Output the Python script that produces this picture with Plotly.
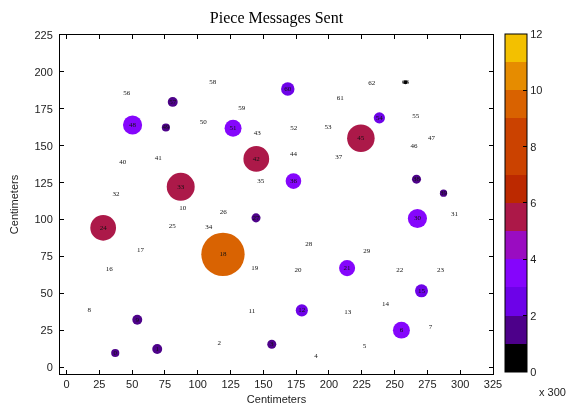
import numpy as np
import plotly.graph_objects as go

# Piece positions on the board (centimetres) and messages sent (in units of 300)
piece_id = list(range(64))
pos_x = [37.1, 69.1, 116.4, 156.4, 190.1, 227.0, 255.2, 277.4, 17.2, 53.9,
         88.5, 141.3, 179.3, 214.3, 243.0, 270.5, 32.5, 56.4, 119.2, 143.4,
         176.4, 213.8, 254.0, 285.0, 27.9, 80.6, 119.5, 144.4, 184.6, 228.8,
         267.4, 295.7, 37.6, 87.0, 108.3, 148.0, 172.9, 207.5, 266.7, 287.3,
         42.9, 69.9, 144.6, 145.4, 172.9, 224.3, 264.7, 278.1, 50.3, 75.7,
         104.2, 126.9, 173.2, 199.3, 238.4, 266.2, 45.8, 80.9, 111.4, 133.5,
         168.6, 208.5, 232.6, 258.3]
pos_y = [9.7, 12.4, 16.2, 15.6, 7.8, 14.6, 25.2, 27.1, 38.8, 32.2,
         108.0, 38.3, 38.6, 37.0, 43.0, 51.8, 66.7, 79.6, 76.5, 67.4,
         66.0, 67.2, 66.0, 66.0, 94.5, 95.8, 104.9, 101.2, 83.6, 78.9,
         100.8, 103.9, 117.5, 122.2, 95.1, 126.3, 126.1, 142.5, 127.4, 117.9,
         139.1, 141.8, 141.1, 158.7, 144.5, 155.1, 149.9, 155.3, 164.1, 162.4,
         166.2, 161.9, 162.1, 162.8, 168.9, 170.2, 185.4, 179.7, 193.2, 175.6,
         188.5, 182.4, 192.6, 193.0]
messages = [1.4, 1.8, 0, 1.6, 0, 0, 3.4, 0, 0, 1.8,
            0, 0, 2.3, 0, 0, 2.5, 0, 0, 9.4, 0,
            0, 3.2, 0, 0, 5.4, 0, 0, 1.6, 0, 0,
            3.9, 0, 0, 5.9, 0, 0, 3.1, 0, 1.6, 1.2,
            0, 0, 5.4, 0, 0, 5.8, 0, 0, 3.9, 1.4,
            0, 3.4, 0, 0, 2.1, 0, 0, 1.8, 0, 0,
            2.6, 0, 0, 0.5]

x_ticks = list(range(0, 326, 25))
y_ticks = list(range(0, 226, 25))
cb_ticks = list(range(0, 13, 2))

# 12-step palette (black - purple - red - orange - yellow)
palette = [(0, 0, 0), (77, 0, 138), (109, 2, 232), (133, 5, 252), (154, 12, 193),
           (172, 24, 72), (188, 41, 0), (203, 66, 0), (203, 66, 0), (217, 98, 0),
           (230, 140, 0), (243, 192, 0)]
n = len(palette)
colorscale = []
for i, (r, g, b) in enumerate(palette):
    c = f"rgb({r},{g},{b})"
    colorscale.append([i / n, c])
    colorscale.append([(i + 1) / n, c])

msg = np.array(messages)
sizes = np.where(msg > 0, 2 + 4.4 * msg, 0)

fig = go.Figure()
fig.add_trace(go.Scatter(
    x=pos_x, y=pos_y, mode="markers+text",
    text=[str(i) for i in piece_id],
    textposition="middle center",
    textfont=dict(family="Liberation Serif", size=7, color="#111111"),
    opacity=0.995,
    marker=dict(
        size=sizes, sizemode="diameter", color=messages,
        colorscale=colorscale, cmin=0, cmax=12, opacity=1,
        line=dict(width=0),
        colorbar=dict(
            x=(505 - 60) / 433, xanchor="left", xpad=0,
            y=1.003, yanchor="top", ypad=0,
            lenmode="pixels", len=338, thickness=22,
            outlinecolor="#000000", outlinewidth=1,
            tickvals=cb_ticks, ticks="inside", ticklen=4, tickcolor="#000000",
            tickfont=dict(family="Liberation Sans", size=11, color="#222222"),
        ),
    ),
    hoverinfo="skip", showlegend=False,
))

axis_common = dict(
    showgrid=False, zeroline=False, showline=True, linecolor="#000000",
    linewidth=1, mirror="allticks", ticks="inside", ticklen=4,
    tickcolor="#000000",
    tickfont=dict(family="Liberation Sans", size=11, color="#222222"),
)

fig.update_layout(
    width=566, height=410,
    margin=dict(l=60, r=73, t=35, b=36, pad=0, autoexpand=False),
    paper_bgcolor="white", plot_bgcolor="white",
    title=dict(text="Piece Messages Sent", x=0.5, xref="paper",
               y=1 - 17 / 410, yanchor="middle",
               font=dict(family="Liberation Serif", size=16, color="#000000")),
    xaxis=dict(range=[-5, 325], tickvals=x_ticks,
               title=dict(text="Centimeters", standoff=6,
                          font=dict(family="Liberation Sans", size=11, color="#222222")),
               **axis_common),
    yaxis=dict(range=[-4.5, 225], tickvals=y_ticks, ticklabelstandoff=4,
               title=dict(text="Centimeters", standoff=13,
                          font=dict(family="Liberation Sans", size=11, color="#222222")),
               **axis_common),
    annotations=[dict(text="x 300", xref="paper", yref="paper",
                      x=(537 - 60) / 433, y=-(392 - 374) / 339,
                      xanchor="left", yanchor="middle", showarrow=False,
                      font=dict(family="Liberation Sans", size=11, color="#222222"))],
)

fig.write_html("out.html")
